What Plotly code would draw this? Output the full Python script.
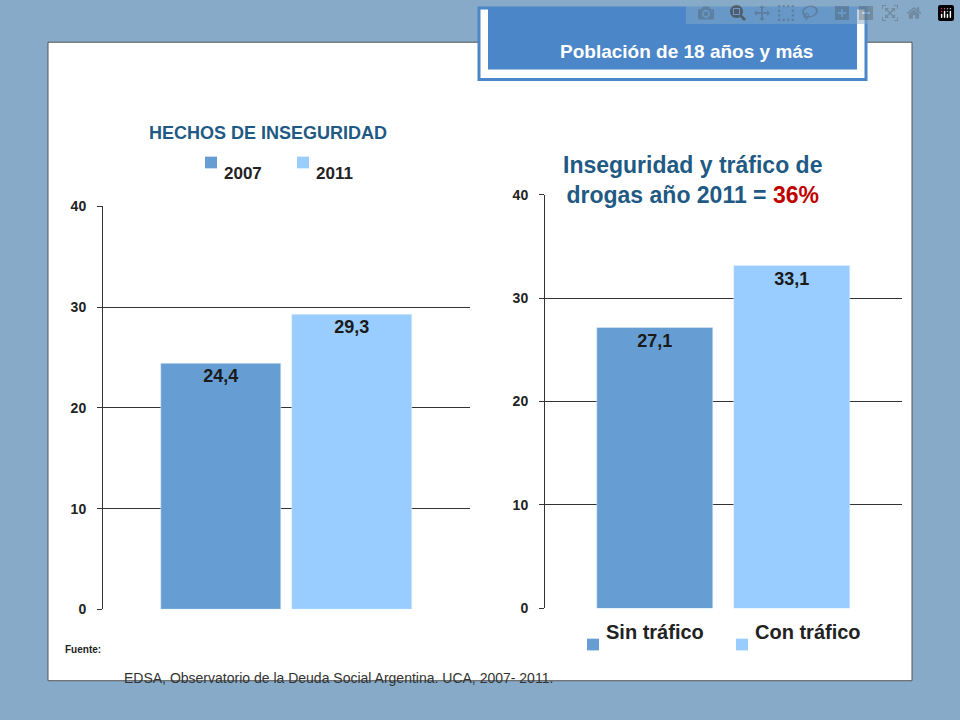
import plotly.graph_objects as go

left_years = ["2007", "2011"]
left_values = [24.4, 29.3]
right_cats = ["Sin tráfico", "Con tráfico"]
right_values = [27.1, 33.1]
colors = ["#669ed3", "#99ccff"]
yticks = [0, 10, 20, 30, 40]

W, H = 960, 720
px = lambda x: x / W
py = lambda y: 1 - y / H

fig = go.Figure()
for i, v in enumerate(left_values):
    fig.add_bar(x=[i], y=[v], marker_color=colors[i], width=0.92, xaxis="x", yaxis="y",
                text=["<b>" + f"{v:.1f}".replace(".", ",") + "</b>"], textposition="inside", insidetextanchor="end",
                textfont=dict(size=18, color="#1a1a1a"), showlegend=False)
for i, v in enumerate(right_values):
    fig.add_bar(x=[i], y=[v], marker_color=colors[i], width=0.84, xaxis="x2", yaxis="y2",
                text=["<b>" + f"{v:.1f}".replace(".", ",") + "</b>"], textposition="inside", insidetextanchor="end",
                textfont=dict(size=18, color="#1a1a1a"), showlegend=False)

ax = dict(showgrid=False, showticklabels=False, zeroline=False, fixedrange=True)
ay = dict(range=[0, 40], tickvals=yticks, gridcolor="#333", gridwidth=1, zeroline=False,
          showline=True, linecolor="#333", ticks="outside", ticklen=5, tickcolor="#333",
          tickfont=dict(size=14, color="#222", weight="bold"), ticklabelstandoff=8)
fig.update_layout(
    width=W, height=H, margin=dict(l=0, r=0, t=0, b=0),
    paper_bgcolor="#86aac8", plot_bgcolor="rgba(0,0,0,0)", bargap=0,
    font=dict(family="Liberation Sans"),
    xaxis=dict(ax, domain=[px(103), px(470)], range=[-0.9, 1.9], anchor="y"),
    yaxis=dict(ay, domain=[py(615), py(203)], anchor="x"),
    xaxis2=dict(ax, domain=[px(545), px(902)], range=[-0.8, 1.8], anchor="y2"),
    yaxis2=dict(ay, domain=[py(614), py(191)], anchor="x2"),
)

shapes = [
    dict(type="rect", xref="paper", yref="paper", x0=px(48), x1=px(912), y0=py(688), y1=py(35),
         fillcolor="white", line=dict(color="#555", width=1), layer="below"),
    dict(type="rect", xref="paper", yref="paper", x0=px(479), x1=px(866), y0=py(73), y1=py(0),
         fillcolor="white", line=dict(color="#4a86c8", width=3)),
    dict(type="rect", xref="paper", yref="paper", x0=px(488), x1=px(857), y0=py(63), y1=py(0),
         fillcolor="#4a86c8", line=dict(width=0)),
]
ann = [
    dict(x=px(686), y=py(32), text="<b>Población de 18 años y más</b>", font=dict(size=19, color="white")),
    dict(x=px(268), y=py(116), text="<b>HECHOS DE INSEGURIDAD</b>", font=dict(size=18, color="#1f5a84")),
    dict(x=px(692), y=py(145), text="<b>Inseguridad y tráfico de<br>drogas año 2011 = <span style='color:#c00000'>36%</span></b>",
         font=dict(size=23, color="#1f5a84")),
    dict(x=px(63), y=py(664), text="<b>Fuente:</b>", font=dict(size=10, color="#222"), xanchor="left"),
    dict(x=px(122), y=py(695), text="EDSA, Observatorio de la Deuda Social Argentina. UCA, 2007- 2011.",
         font=dict(size=14, color="#333"), xanchor="left"),
]
for (sx, lx, lab, c, y, fs) in [(205, 222, "2007", colors[0], 158, 17), (297, 314, "2011", colors[1], 158, 17),
                                (587, 604, "Sin tráfico", colors[0], 651, 20), (736, 753, "Con tráfico", colors[1], 651, 20)]:
    shapes.append(dict(type="rect", xref="paper", yref="paper", x0=px(sx), x1=px(sx + 12),
                       y0=py(y + 6), y1=py(y - 6), fillcolor=c, line=dict(width=0)))
    ann.append(dict(x=px(lx), y=py(y), text=f"<b>{lab}</b>", xanchor="left", font=dict(size=fs, color="#222")))
for a in ann:
    a.update(xref="paper", yref="paper", showarrow=False)
    a.setdefault("xanchor", "center")
fig.update_layout(shapes=shapes, annotations=ann)
fig.write_html("out.html", post_script="document.body.style.margin='0';document.body.style.overflow='hidden';")
